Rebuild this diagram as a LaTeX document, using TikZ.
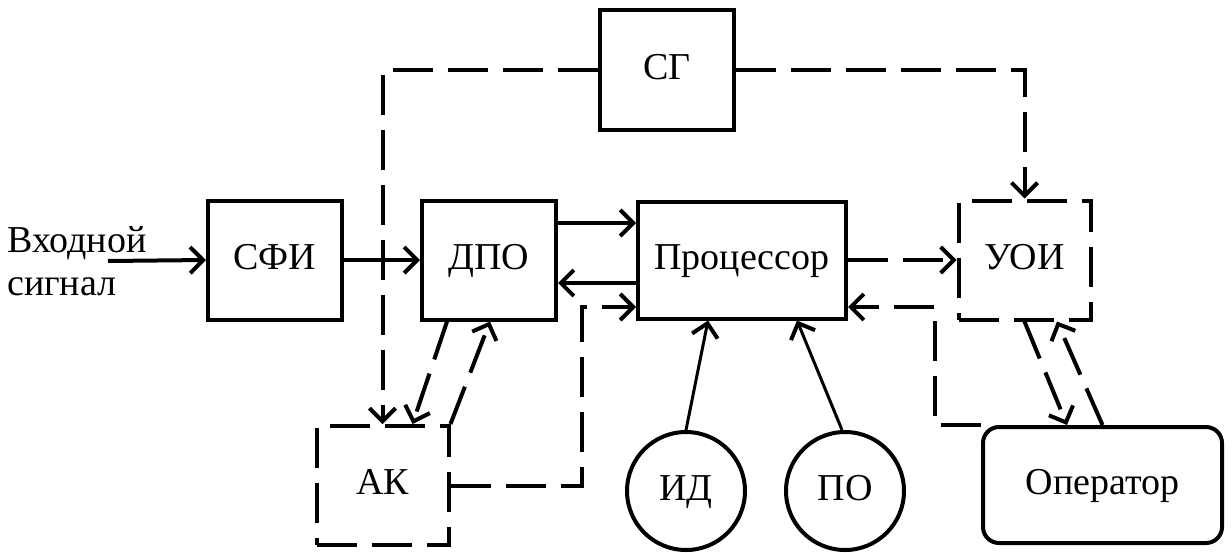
\documentclass[tikz,border=0pt]{standalone}
\usepackage{fontspec}
\setmainfont{Liberation Serif}
\usetikzlibrary{arrows.meta,calc}
\begin{document}
\begin{tikzpicture}[x=1pt,y=-1pt,
  every node/.style={font=\fontsize{38}{43}\selectfont, inner sep=0pt},
  blk/.style={draw, line width=4pt, minimum width=#1, align=center, text height=26pt, text depth=8pt},
  sblk/.style={blk=134pt, minimum height=119pt},
  dblk/.style={draw, line width=4pt, dash pattern=on 40pt off 15pt, minimum width=132pt, minimum height=119pt, text height=26pt, text depth=8pt},
  circ/.style={draw, circle, line width=4pt, minimum size=118pt, text height=26pt, text depth=8pt},
  ln/.style={line width=4pt},
  thin/.style={line width=3pt},
  dsh/.style={line width=4pt, dash pattern=on 40pt off 15pt},
  arr/.style={-{Straight Barb[length=13pt,width=26pt,line width=4pt]}}
]
\useasboundingbox (0,0) rectangle (1232,552);
\fill[white] (0,0) rectangle (1232,552);

\node[sblk, minimum height=120pt] (sg) at (667,70) {СГ};
\node[sblk] (sfi) at (275,260) {СФИ};
\node[sblk] (dpo) at (489,260) {ДПО};
\node[blk=208pt, minimum height=117pt] (proc) at (742,260) {Процессор};
\node[dblk] (uoi) at (1024.5,260) {УОИ};
\node[dblk] (ak) at (382.5,485.5) {АК};
\node[circ] (id) at (686,491) {ИД};
\node[circ] (po) at (845,491) {ПО};
\node[draw, line width=4pt, rounded corners=16pt, minimum width=239pt, minimum height=116pt, text height=26pt, text depth=8pt] (op) at (1102.5,485) {Оператор};

\node[align=left, anchor=north west, text height=26pt] (inlbl) at (7,269) {Входной\\сигнал};
\coordinate (inp) at (108,261);
\coordinate (akc) at (582,307);
\coordinate (opc) at (935,307);

\draw[ln,arr] (inp) -- (sfi.west);
\draw[ln,arr] (sfi.east) -- (dpo.west);
\draw[ln,arr] ([yshift=37pt]dpo.east) -- ([yshift=37pt]dpo.east -| proc.west);
\draw[ln,arr] ([yshift=-23pt]proc.west) -- ([yshift=-23pt]proc.west -| dpo.east);
\draw[dsh,arr] (ak.east) -| (akc) -- (akc -| proc.west);
\draw[dsh,arr] (sg.west) -| (ak.north);
\draw[dsh,arr] (sg.east) -| (uoi.north);
\draw[dsh,arr] (proc.east) -- (uoi.west);
\draw[dsh,arr] (op.north west) -| (opc) -- (opc -| proc.east);
\draw[dsh,arr] ([xshift=-42pt]dpo.south) -- ([xshift=30pt]ak.north);
\draw[dsh,arr] (ak.north east) -- ([xshift=1pt]dpo.south);
\draw[dsh,arr] (uoi.south) -- ([xshift=-35.5pt]op.north);
\draw[dsh,arr] (op.north) -- ([xshift=32.5pt]uoi.south);
\draw[thin,arr] (id.north) -- ([xshift=-34pt]proc.south);
\draw[thin,arr] ([xshift=-3pt]po.north) -- ([xshift=55pt]proc.south);
\end{tikzpicture}
\end{document}
